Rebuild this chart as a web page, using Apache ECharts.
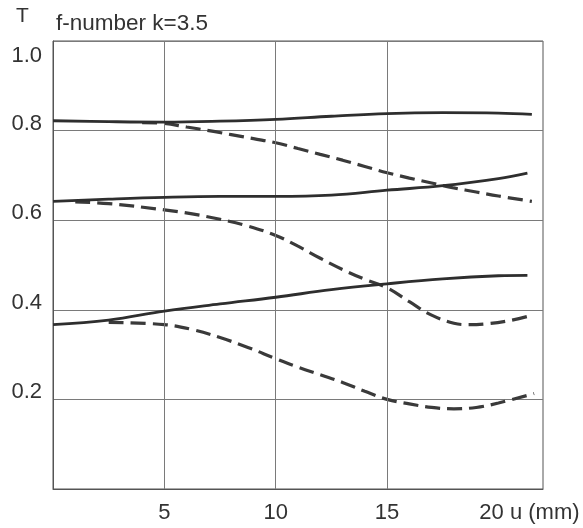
<!DOCTYPE html>
<html>
<head>
<meta charset="utf-8">
<script src="https://cdn.jsdelivr.net/npm/echarts@6/dist/echarts.min.js"></script>
<style>
html,body{margin:0;padding:0;background:#fff;}
#chart{width:583px;height:528px;}
</style>
</head>
<body>
<div id="chart"></div>
<script>
// Tick labels
const xTickValues = [5, 10, 15, 20];
const xTickLabels = ['5', '10', '15', '20 u (mm)'];
const xGridLines = [5, 10, 15];
const yTickValues = [0.2, 0.4, 0.6, 0.8, 1.0];
const yTickLabels = ['0.2', '0.4', '0.6', '0.8', '1.0'];

// Curve 1 (top, solid) and its dashed companion
const u1Solid = [0, 2.5, 5, 7.5, 10, 12.5, 15, 17.5, 20, 21.5];
const t1Solid = [0.822, 0.820, 0.819, 0.821, 0.825, 0.832, 0.838, 0.840, 0.839, 0.836];
const u1Dash = [4, 5, 6, 7, 8, 9, 10, 11, 12, 13, 14, 15, 16, 17, 18, 19, 20, 21.5];
const t1Dash = [0.818, 0.816, 0.808, 0.800, 0.791, 0.782, 0.773, 0.760, 0.747, 0.734, 0.720, 0.706, 0.694, 0.683, 0.672, 0.663, 0.654, 0.642];

// Curve 2 (middle)
const u2Solid = [0, 2.5, 5, 7.5, 10, 12.5, 15, 17.5, 20, 21.3];
const t2Solid = [0.642, 0.647, 0.651, 0.653, 0.653, 0.656, 0.667, 0.677, 0.693, 0.705];
const u2Dash = [1, 2.5, 5, 6.25, 7.5, 8.75, 10, 11, 12, 13, 14, 15, 16, 17, 18, 18.6, 19.5, 20.5, 21.3];
const t2Dash = [0.641, 0.637, 0.623, 0.614, 0.602, 0.587, 0.566, 0.542, 0.515, 0.490, 0.468, 0.449, 0.418, 0.388, 0.370, 0.367, 0.369, 0.376, 0.385];

// Curve 3 (bottom)
const u3Solid = [0, 2.5, 5, 7.5, 10, 12.5, 15, 17.5, 20, 21.3];
const t3Solid = [0.367, 0.377, 0.397, 0.413, 0.428, 0.445, 0.458, 0.469, 0.476, 0.477];
const u3Dash = [2.5, 5, 6.25, 7.5, 8.75, 10, 11, 12, 13, 14, 15, 16, 17, 18, 19, 20, 21.6];
const t3Dash = [0.372, 0.367, 0.356, 0.338, 0.316, 0.291, 0.272, 0.255, 0.238, 0.218, 0.200, 0.190, 0.182, 0.179, 0.182, 0.192, 0.213];

const ink = '#333333';
const gridColor = '#7a7a7a';
const font = '"Liberation Sans", Arial, sans-serif';

function zip(us, ts) { return us.map((u, i) => [u, ts[i]]); }

function solid(us, ts) {
  return {
    type: 'line', data: zip(us, ts), smooth: 0.4, showSymbol: false, symbol: 'none',
    lineStyle: { color: '#2e2e2e', width: 2.8, type: 'solid' }, z: 5
  };
}
function dashed(us, ts) {
  return {
    type: 'line', data: zip(us, ts), smooth: 0.4, showSymbol: false, symbol: 'none',
    lineStyle: { color: '#3a3a3a', width: 3.2, type: [15, 7] }, z: 4
  };
}

const series = [
  solid(u1Solid, t1Solid), dashed(u1Dash, t1Dash),
  solid(u2Solid, t2Solid), dashed(u2Dash, t2Dash),
  solid(u3Solid, t3Solid), dashed(u3Dash, t3Dash)
];
series[0].markLine = {
  silent: true, symbol: 'none', animation: false,
  label: { show: false },
  lineStyle: { color: gridColor, width: 1, type: 'solid' },
  data: xGridLines.map(v => ({ xAxis: v }))
};

const chart = echarts.init(document.getElementById('chart'), null, { renderer: 'canvas' });
chart.setOption({
  animation: false,
  backgroundColor: '#ffffff',
  title: [
    { text: 'T', left: 11, top: 1, textStyle: { fontFamily: font, fontSize: 21, fontWeight: 'normal', color: ink } },
    { text: 'f-number k=3.5', left: 51, top: 7, textStyle: { fontFamily: font, fontSize: 22.5, fontWeight: 'normal', color: ink } }
  ],
  grid: {
    left: 53, top: 41, right: 40, bottom: 39,
    show: true, borderColor: '#555', borderWidth: 1, backgroundColor: 'transparent'
  },
  xAxis: {
    type: 'value', min: 0, max: 22, interval: 5,
    axisLine: { show: true, lineStyle: { color: '#555', width: 1 } },
    axisTick: { show: false },
    splitLine: { show: false },
    axisLabel: {
      color: ink, fontFamily: font, fontSize: 22, margin: 13,
      formatter: function (v) {
        const i = xTickValues.indexOf(v);
        if (i < 0) return '';
        if (i === xTickValues.length - 1) return '{last|' + xTickLabels[i] + '}';
        return xTickLabels[i];
      },
      rich: { last: { fontFamily: font, fontSize: 22, color: ink, padding: [0, 0, 0, 62] } }
    }
  },
  yAxis: {
    type: 'value', min: 0, max: 1, interval: 0.2,
    axisLine: { show: true, lineStyle: { color: '#555', width: 1 } },
    axisTick: { show: false },
    splitLine: { show: true, lineStyle: { color: gridColor, width: 1 } },
    axisLabel: {
      color: ink, fontFamily: font, fontSize: 22, margin: 11,
      formatter: function (v) {
        let idx = -1;
        yTickValues.forEach((t, i) => { if (Math.abs(t - v) < 1e-6) idx = i; });
        if (idx < 0) return '';
        if (idx === yTickValues.length - 1) return '{t|' + yTickLabels[idx] + '}';
        return '{n|' + yTickLabels[idx] + '}';
      },
      rich: {
        t: { fontFamily: font, fontSize: 22, color: ink, padding: [30, 0, 0, 0] },
        n: { fontFamily: font, fontSize: 22, color: ink, padding: [0, 0, 14, 0] }
      }
    }
  },
  series: series
});
</script>
</body>
</html>
